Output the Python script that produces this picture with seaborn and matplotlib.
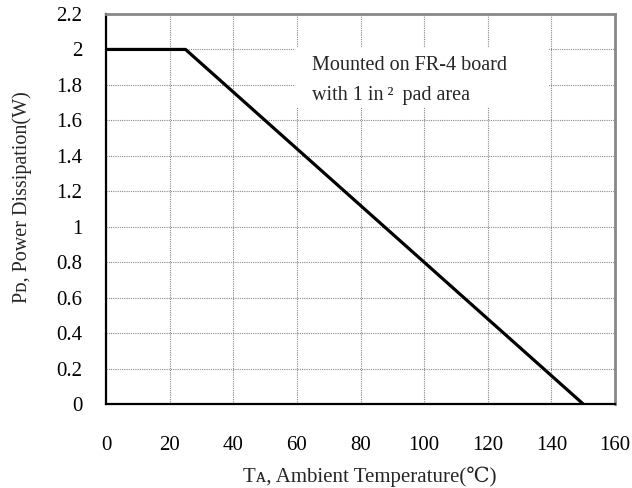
import matplotlib
matplotlib.use("Agg")
import matplotlib.pyplot as plt
import seaborn as sns
import pandas as pd

temperature = [0, 25, 150]
power = [2.0, 2.0, 0.0]
x_ticks = [0, 20, 40, 60, 80, 100, 120, 140, 160]
y_ticks = [0, 0.2, 0.4, 0.6, 0.8, 1.0, 1.2, 1.4, 1.6, 1.8, 2.0, 2.2]
y_tick_labels = ["0", "0.2", "0.4", "0.6", "0.8", "1", "1.2", "1.4", "1.6", "1.8", "2", "2.2"]
note_lines = ["Mounted on FR-4 board", "with 1 in\u2009\u00b2\u2009 pad area"]

sns.set_style("white")
plt.rcParams['font.family'] = ['Liberation Serif', 'DejaVu Serif', 'Noto Sans CJK JP']

df = pd.DataFrame({"T": temperature, "P": power})

fig = plt.figure(figsize=(6.32, 4.88), dpi=100)
ax = fig.add_axes([106/632, 1-404/488, (615-106)/632, (404-14)/488])

sns.lineplot(data=df, x="T", y="P", ax=ax, color="black", linewidth=2.3, sort=False)

ax.set_xlim(0, 160)
ax.set_ylim(0, 2.2)
ax.set_xticks(x_ticks)
ax.set_xticklabels([str(t) for t in x_ticks])
ax.set_yticks(y_ticks)
ax.set_yticklabels(y_tick_labels)
ax.grid(True, color="#888888", linestyle=(0, (1, 1)), linewidth=0.8)
ax.set_axisbelow(True)

ax.tick_params(direction="in", length=5, width=1.5, colors="black", labelsize=15)
ax.tick_params(axis="x", pad=23)
ax.tick_params(axis="y", pad=17)
ax.tick_params(top=False, right=False)

for side in ["left", "bottom"]:
    ax.spines[side].set_color("black")
    ax.spines[side].set_linewidth(1.6)
for side in ["top", "right"]:
    ax.spines[side].set_color("#888888")
    ax.spines[side].set_linewidth(2)

ax.set_xlabel("T\u1d00, Ambient Temperature(\u2103)", fontsize=15)
ax.set_ylabel("P\u1d05, Power Dissipation(W)", fontsize=14.5)
ax.xaxis.set_label_coords((370-106)/509, (404-467)/390)
ax.yaxis.set_label_coords((32-106)/509, (404-197)/390)

# Note box covering grid
ax.fill_between([59.4, 139.3], 1.675, 2.008, color="white", zorder=1.5, linewidth=0)
ax.text(64.8, 1.912, note_lines[0], fontsize=14.5, va="center", ha="left", zorder=3)
ax.text(64.8, 1.743, note_lines[1], fontsize=14.5, va="center", ha="left", zorder=3)

fig.savefig("out.png", dpi=100)
